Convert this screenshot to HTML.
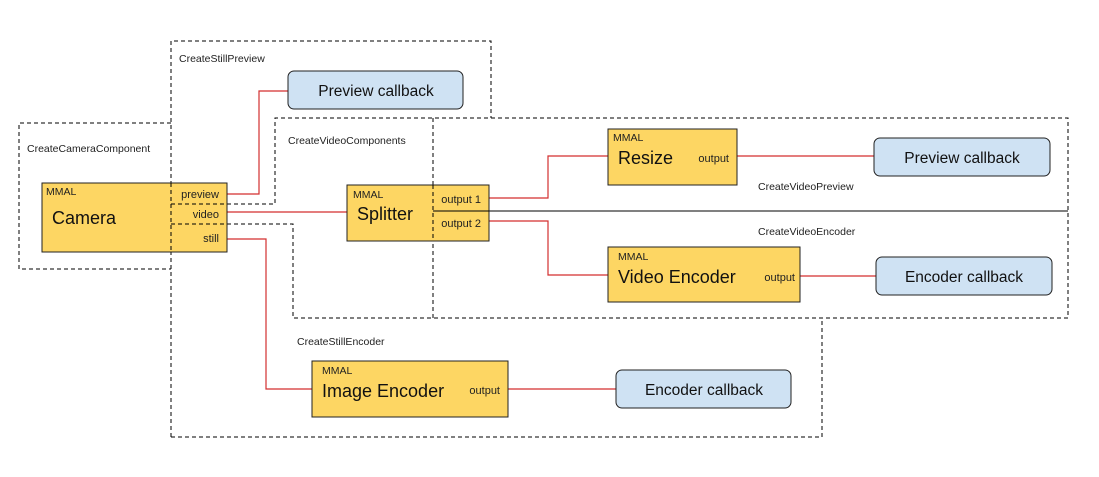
<!DOCTYPE html>
<html><head><meta charset="utf-8"><style>
html,body{margin:0;padding:0;background:#fff;}
svg{display:block;font-family:"Liberation Sans",sans-serif;}
</style></head><body>
<svg width="1099" height="477" viewBox="0 0 1099 477" xmlns="http://www.w3.org/2000/svg">
<g fill="none" stroke="#000" stroke-width="1" stroke-dasharray="4,3">
<path d="M171,123 H19 V269 H171"/>
<path d="M171,437 V41 H491 V118"/>
<path d="M171,204 H275 V118 H1068 V318 H293 V224 H171"/>
<path d="M171,437 H822 V318"/>
<path d="M433,118 V318"/>
</g>
<line x1="433" y1="211" x2="1068" y2="211" stroke="#000" stroke-width="1"/>
<g fill="none" stroke="#d32f2f" stroke-width="1.2">
<path d="M227,194 H259 V91 H288"/>
<path d="M227,212 H347"/>
<path d="M227,239 H266 V389 H312"/>
<path d="M489,198 H548 V156 H608"/>
<path d="M489,221 H548 V275 H608"/>
<path d="M737,156 H874"/>
<path d="M800,276 H876"/>
<path d="M508,389 H616"/>
</g>
<g fill="#fdd663" stroke="#222" stroke-width="1">
<rect x="42" y="183" width="185" height="69"/>
<rect x="347" y="185" width="142" height="56"/>
<rect x="608" y="129" width="129" height="56"/>
<rect x="608" y="247" width="192" height="55"/>
<rect x="312" y="361" width="196" height="56"/>
</g>
<g fill="#cfe2f3" stroke="#222" stroke-width="1">
<rect x="288" y="71" width="175" height="38" rx="6"/>
<rect x="874" y="138" width="176" height="38" rx="6"/>
<rect x="876" y="257" width="176" height="38" rx="6"/>
<rect x="616" y="370" width="175" height="38" rx="6"/>
</g>
<g fill="none" stroke="#000" stroke-width="1" stroke-dasharray="4,3">
<path d="M171,183 V252"/>
<path d="M171,204 H227"/>
<path d="M171,224 H227"/>
<path d="M433,185 V241"/>
</g>
<line x1="433" y1="211" x2="489" y2="211" stroke="#000" stroke-width="1"/>
<g fill="#222" font-size="10.5">
<text x="179" y="62">CreateStillPreview</text>
<text x="27" y="152">CreateCameraComponent</text>
<text x="288" y="144">CreateVideoComponents</text>
<text x="758" y="190">CreateVideoPreview</text>
<text x="758" y="235">CreateVideoEncoder</text>
<text x="297" y="345">CreateStillEncoder</text>
<text x="46" y="195">MMAL</text>
<text x="353" y="198">MMAL</text>
<text x="613" y="141">MMAL</text>
<text x="618" y="260">MMAL</text>
<text x="322" y="374">MMAL</text>
</g>
<g fill="#222" font-size="11" text-anchor="end">
<text x="219" y="198">preview</text>
<text x="219" y="218">video</text>
<text x="219" y="242">still</text>
<text x="481" y="203">output 1</text>
<text x="481" y="227">output 2</text>
<text x="729" y="162">output</text>
<text x="795" y="281">output</text>
<text x="500" y="394">output</text>
</g>
<g fill="#111" font-size="18">
<text x="52" y="224">Camera</text>
<text x="357" y="220">Splitter</text>
<text x="618" y="164">Resize</text>
<text x="618" y="283">Video Encoder</text>
<text x="322" y="397">Image Encoder</text>
</g>
<g fill="#111" font-size="15.5" text-anchor="middle">
<text x="376" y="96">Preview callback</text>
<text x="962" y="163">Preview callback</text>
<text x="964" y="282">Encoder callback</text>
<text x="704" y="395">Encoder callback</text>
</g>
</svg>
</body></html>
